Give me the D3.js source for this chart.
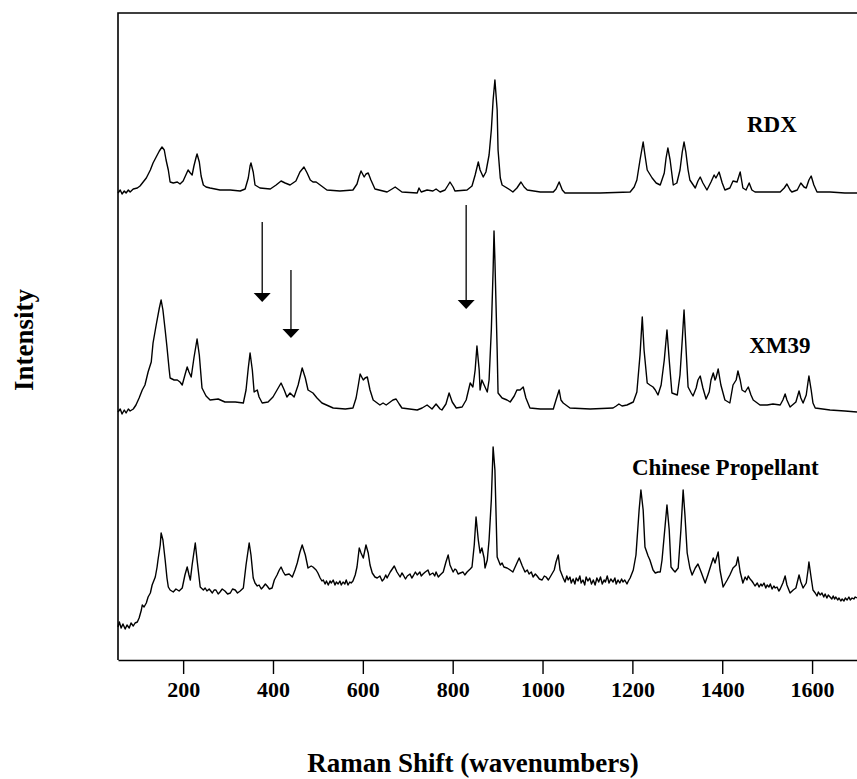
<!DOCTYPE html>
<meta charset="utf-8">
<style>
  body { margin: 0; background: #fff; }
  .frame { fill: none; stroke: #000; stroke-width: 1.6; }
  .spectrum { fill: none; stroke: #000; stroke-width: 1.4; stroke-linejoin: round; }
  .axis text, .label, .title {
      font-family: "Liberation Serif", "Times New Roman", serif;
      font-weight: bold;
      fill: #000;
  }
  .axis text { font-size: 22px; }
  .axis path, .axis line { stroke: #000; stroke-width: 1.4; }
  .label { font-size: 23px; }
  .title { font-size: 27px; }
  .arrow { stroke: #000; stroke-width: 1.3; }
</style>
<body>
<svg width="857" height="779"></svg>
<script src="https://d3js.org/d3.v7.min.js"></script>
<script>

// spectra, intensity in arbitrary units
var rdxShift = [55,60,64,69,73,78,82,89,98,104,111,118,127,133,140,147,153,158,162,167,171,178,187,193,200,207,211,216,220,224,229,231,236,240,245,251,260,282,305,327,338,345,349,351,356,360,371,394,407,418,427,438,451,460,469,476,483,489,496,505,520,549,578,587,592,596,603,607,612,618,627,654,665,672,681,687,721,725,730,743,756,763,772,783,790,794,801,805,832,843,850,857,861,868,874,881,886,890,894,899,901,906,910,928,934,943,952,959,966,995,1024,1030,1037,1044,1050,1128,1195,1204,1210,1217,1224,1228,1233,1244,1253,1262,1271,1275,1279,1284,1291,1299,1306,1311,1315,1319,1324,1328,1340,1346,1351,1357,1366,1375,1382,1386,1393,1400,1406,1417,1424,1433,1440,1446,1453,1460,1466,1473,1529,1538,1544,1551,1555,1567,1575,1582,1587,1593,1598,1604,1611,1640,1673,1700];
var rdxIntensity = [467,470,466,469,467,470,468,471,472,474,478,482,490,497,503,509,513,510,500,490,478,477,478,476,479,486,490,487,485,494,503,506,498,484,475,473,472,470,470,469,471,482,494,497,488,475,472,471,475,479,477,475,479,488,493,487,480,478,478,475,470,469,470,476,484,489,483,486,487,480,471,468,471,473,470,468,467,472,468,470,469,471,468,470,475,478,473,469,470,474,485,498,490,483,488,505,530,560,580,550,510,482,475,470,468,472,478,473,470,468,468,471,478,470,467,467,468,473,480,500,518,505,490,482,477,475,487,502,512,500,475,477,490,508,518,508,490,480,472,479,483,477,470,478,485,482,488,477,470,472,479,478,488,472,470,477,470,468,468,472,476,470,468,470,477,473,472,480,484,475,468,468,467,467];

var xm39Shift = [55,60,64,69,73,78,82,89,95,102,109,115,122,129,133,140,147,151,155,160,164,169,171,180,187,193,198,204,209,213,218,224,231,236,242,251,260,278,293,316,334,340,345,349,354,358,365,369,376,389,400,409,418,425,431,438,447,456,465,472,478,489,498,509,534,561,578,585,590,594,601,605,610,616,623,638,645,652,661,667,674,681,687,721,732,743,754,763,772,776,785,792,799,808,821,830,839,845,850,854,859,861,865,870,877,881,886,890,892,894,899,901,910,921,928,937,943,950,957,963,972,995,1024,1030,1037,1041,1046,1061,1106,1157,1164,1170,1177,1188,1202,1210,1217,1222,1226,1233,1239,1246,1251,1257,1264,1271,1277,1282,1288,1300,1306,1311,1315,1319,1324,1331,1335,1342,1346,1351,1357,1364,1371,1375,1380,1384,1386,1391,1397,1406,1417,1424,1431,1435,1440,1444,1451,1458,1464,1469,1484,1500,1513,1529,1535,1540,1544,1551,1564,1571,1575,1580,1587,1591,1593,1598,1602,1607,1640,1673,1700];
var xm39Intensity = [248,251,246,250,247,251,249,251,255,262,270,275,288,298,317,335,352,360,350,330,313,290,282,280,280,278,275,285,293,288,283,302,321,305,272,264,260,261,258,258,257,270,292,307,290,268,270,263,257,258,263,270,277,270,263,267,263,275,292,282,270,267,262,257,252,251,252,262,275,286,280,282,283,270,260,255,257,255,258,260,261,256,252,250,252,255,251,256,251,250,256,267,258,252,253,260,277,273,290,314,290,270,280,275,268,280,330,390,429,400,310,267,262,260,258,264,270,270,273,262,252,251,251,260,270,260,257,252,251,252,254,256,254,255,258,268,305,343,310,277,275,273,270,265,275,300,330,300,267,265,285,320,350,315,273,267,264,272,280,284,272,261,268,280,287,280,282,291,275,260,257,275,280,289,280,270,268,273,265,260,255,255,256,255,260,266,260,253,258,269,262,257,265,278,284,270,257,252,250,249,248];

// noisier trace, kept as [shift, intensity] pairs
var chineseSpectrum = [
  [55,33],[58,38],[62,32],[66,36],[71,31],[75,35],[80,32],[84,37],[89,34],[93,37],[98,38],[102,42],[107,50],[109,55],[113,53],[118,57],
  [122,63],[127,67],[131,75],[138,83],[142,93],[144,100],[149,115],[151,127],[155,120],[160,100],[164,82],[167,73],[171,70],[178,68],
  [184,71],[191,69],[198,72],[204,85],[209,93],[213,85],[216,80],[220,95],[227,117],[231,100],[238,73],[245,70],[249,72],[253,69],
  [258,71],[265,67],[269,70],[273,70],[278,66],[282,68],[287,71],[293,69],[299,66],[305,67],[310,71],[316,70],[321,67],[327,69],
  [334,72],[340,95],[347,117],[351,105],[356,82],[360,77],[365,74],[369,75],[374,71],[378,73],[383,76],[387,74],[392,71],[398,72],
  [403,80],[409,85],[414,90],[418,93],[423,88],[427,85],[436,86],[443,83],[449,90],[454,97],[460,108],[465,115],[472,105],[478,92],
  [485,94],[489,93],[496,90],[500,87],[505,82],[509,79],[512,80],[516,76],[519,79],[523,75],[527,79],[530,77],[534,80],[538,75],
  [541,78],[545,76],[549,79],[552,75],[556,78],[560,76],[563,80],[567,75],[571,78],[574,77],[578,79],[583,85],[587,93],[592,112],
  [596,107],[601,102],[607,115],[612,107],[616,95],[621,87],[627,83],[632,82],[638,84],[643,79],[647,81],[651,85],[654,82],[661,88],
  [670,94],[676,88],[683,83],[687,87],[690,85],[695,81],[699,84],[705,86],[709,82],[712,84],[717,88],[721,85],[727,88],[730,84],
  [734,86],[739,88],[745,90],[749,85],[752,86],[756,87],[760,84],[763,88],[768,83],[772,85],[779,88],[785,98],[790,105],[794,95],
  [801,88],[805,91],[808,90],[812,86],[817,87],[823,88],[827,85],[832,88],[839,91],[843,93],[848,115],[852,143],[857,120],[861,107],
  [865,112],[870,102],[872,92],[877,100],[881,120],[886,160],[890,213],[894,190],[899,103],[906,95],[910,97],[914,93],[921,92],
  [928,90],[934,88],[941,95],[948,102],[955,94],[961,88],[966,90],[970,86],[975,88],[979,83],[984,86],[988,84],[993,81],[999,80],
  [1004,84],[1008,83],[1013,80],[1017,83],[1026,90],[1030,98],[1035,105],[1039,90],[1046,82],[1050,78],[1054,84],[1057,80],
  [1061,83],[1064,77],[1068,81],[1072,76],[1075,82],[1079,79],[1083,84],[1086,77],[1090,80],[1094,75],[1097,83],[1101,79],
  [1105,82],[1109,76],[1113,80],[1117,75],[1121,82],[1125,78],[1129,83],[1133,76],[1137,80],[1140,78],[1144,84],[1148,77],
  [1152,81],[1157,78],[1161,82],[1164,76],[1168,80],[1172,77],[1176,81],[1179,78],[1183,80],[1188,76],[1191,79],[1195,82],
  [1202,90],[1208,105],[1215,150],[1219,170],[1224,150],[1228,113],[1235,104],[1239,100],[1246,90],[1251,87],[1257,88],[1262,88],
  [1266,100],[1273,135],[1277,155],[1282,130],[1286,93],[1291,90],[1295,88],[1302,92],[1308,130],[1313,170],[1317,145],[1322,107],
  [1328,92],[1333,85],[1340,92],[1346,96],[1353,88],[1362,77],[1368,85],[1375,95],[1380,102],[1384,97],[1391,108],[1395,90],
  [1402,73],[1411,80],[1417,85],[1424,92],[1431,95],[1435,103],[1440,88],[1446,77],[1451,83],[1455,80],[1458,84],[1462,81],
  [1466,79],[1469,77],[1473,74],[1478,77],[1482,73],[1486,76],[1489,74],[1493,77],[1497,72],[1500,75],[1504,73],[1507,76],
  [1511,71],[1515,74],[1518,72],[1522,73],[1526,69],[1529,71],[1535,77],[1540,84],[1544,75],[1551,67],[1558,70],[1564,72],
  [1571,85],[1575,78],[1580,72],[1587,77],[1591,90],[1593,98],[1598,82],[1602,70],[1607,67],[1611,64],[1614,68],[1618,65],
  [1622,67],[1626,63],[1629,66],[1633,62],[1636,65],[1640,63],[1644,61],[1647,64],[1650,61],[1653,63],[1657,60],[1660,62],
  [1664,59],[1667,61],[1671,59],[1674,62],[1678,60],[1682,63],[1685,60],[1689,62],[1693,61],[1696,63],[1700,62]
];

var zip = function(a, b) { return a.map(function(v, i) { return [v, b[i]]; }); };

var series = [
  { name: "RDX", points: zip(rdxShift, rdxIntensity), labelAt: [1455, 528] },
  { name: "XM39", points: zip(xm39Shift, xm39Intensity), labelAt: [1460, 307] },
  { name: "Chinese Propellant", points: chineseSpectrum, labelAt: [1199, 185] }
];

// arrows marking XM39 bands
var arrowShift = [376, 440, 830];
var arrowTop = [438, 390, 455];
var arrowTip = [358, 322, 351];

var xTicks = [200, 400, 600, 800, 1000, 1200, 1400, 1600];

var svg = d3.select("svg");

var x = d3.scaleLinear()
    .domain([55, 1700])
    .range([118, 857]);

var y = d3.scaleLinear()
    .domain([0, 647])
    .range([660, 13]);

svg.append("path")
    .attr("class", "frame")
    .attr("d", "M" + x.range()[1] + "," + y.range()[1] + "H" + x.range()[0] + "V" + y.range()[0]);

var xAxis = d3.axisBottom(x)
    .tickValues(xTicks)
    .tickFormat(d3.format("d"))
    .tickSizeInner(14)
    .tickSizeOuter(0)
    .tickPadding(7.5);

svg.append("g")
    .attr("class", "axis")
    .attr("transform", "translate(0," + y.range()[0] + ")")
    .call(xAxis);

var line = d3.line()
    .x(function(d) { return x(d[0]); })
    .y(function(d) { return y(d[1]); });

series.forEach(function(s) {
  svg.append("path")
      .attr("class", "spectrum")
      .attr("d", line(s.points));
  svg.append("text")
      .attr("class", "label")
      .attr("x", x(s.labelAt[0]))
      .attr("y", y(s.labelAt[1]))
      .text(s.name);
});

var arrows = svg.append("g");
arrowShift.forEach(function(v, i) {
  var ax = x(v), top = y(arrowTop[i]), tip = y(arrowTip[i]);
  arrows.append("line")
      .attr("class", "arrow")
      .attr("x1", ax).attr("x2", ax)
      .attr("y1", top).attr("y2", tip - 6);
  arrows.append("path")
      .attr("d", "M" + (ax - 8.5) + "," + (tip - 9) + "L" + (ax + 8.5) + "," + (tip - 9) + "L" + ax + "," + tip + "Z")
      .attr("fill", "#000");
});

svg.append("text")
    .attr("class", "title")
    .attr("text-anchor", "middle")
    .attr("x", 473)
    .attr("y", 772)
    .text("Raman Shift (wavenumbers)");

svg.append("text")
    .attr("class", "title")
    .attr("text-anchor", "middle")
    .attr("transform", "translate(33,340) rotate(-90)")
    .text("Intensity");

</script>
</body>
